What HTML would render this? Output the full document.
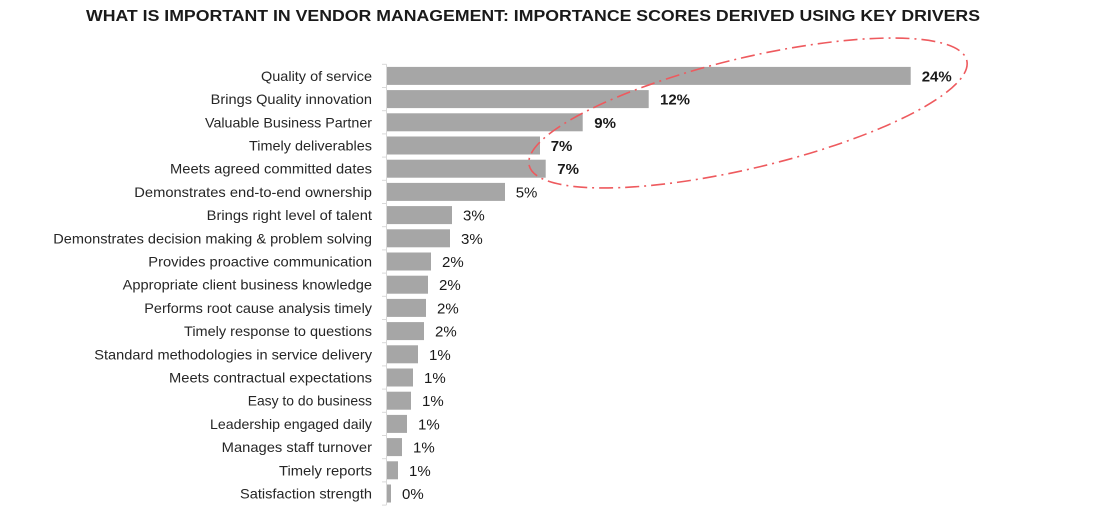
<!DOCTYPE html>
<html>
<head>
<meta charset="utf-8">
<style>
  html,body{margin:0;padding:0;background:#ffffff;}
  svg{display:block;}
  .cat{font-family:"Liberation Sans",Arial,sans-serif;font-size:14px;fill:#262626;}
  .val{font-family:"Liberation Sans",Arial,sans-serif;font-size:15px;fill:#1a1a1a;}
  .b{font-weight:bold;}
  .title{font-family:"Liberation Sans",Arial,sans-serif;font-size:16px;font-weight:bold;fill:#1a1a1a;}
</style>
</head>
<body>
<svg width="1108" height="511" viewBox="0 0 1108 511" xmlns="http://www.w3.org/2000/svg">
  <rect x="0" y="0" width="1108" height="511" fill="#ffffff"/>
  <text class="title" x="86" y="21" textLength="894" lengthAdjust="spacingAndGlyphs">WHAT IS IMPORTANT IN VENDOR MANAGEMENT: IMPORTANCE SCORES DERIVED USING KEY DRIVERS</text>

  <!-- axis -->
  <line x1="386.5" y1="64.3" x2="386.5" y2="505" stroke="#d9d9d9" stroke-width="1"/>
  <g stroke="#d9d9d9" stroke-width="1">
    <line x1="382" y1="64.3" x2="386.5" y2="64.3"/>
    <line x1="382" y1="87.5" x2="386.5" y2="87.5"/>
    <line x1="382" y1="110.7" x2="386.5" y2="110.7"/>
    <line x1="382" y1="133.9" x2="386.5" y2="133.9"/>
    <line x1="382" y1="157.1" x2="386.5" y2="157.1"/>
    <line x1="382" y1="180.3" x2="386.5" y2="180.3"/>
    <line x1="382" y1="203.5" x2="386.5" y2="203.5"/>
    <line x1="382" y1="226.7" x2="386.5" y2="226.7"/>
    <line x1="382" y1="249.9" x2="386.5" y2="249.9"/>
    <line x1="382" y1="273.1" x2="386.5" y2="273.1"/>
    <line x1="382" y1="296.3" x2="386.5" y2="296.3"/>
    <line x1="382" y1="319.5" x2="386.5" y2="319.5"/>
    <line x1="382" y1="342.7" x2="386.5" y2="342.7"/>
    <line x1="382" y1="365.9" x2="386.5" y2="365.9"/>
    <line x1="382" y1="389.1" x2="386.5" y2="389.1"/>
    <line x1="382" y1="412.3" x2="386.5" y2="412.3"/>
    <line x1="382" y1="435.5" x2="386.5" y2="435.5"/>
    <line x1="382" y1="458.7" x2="386.5" y2="458.7"/>
    <line x1="382" y1="481.9" x2="386.5" y2="481.9"/>
    <line x1="382" y1="505.1" x2="386.5" y2="505.1"/>
  </g>

  <!-- bars -->
  <g fill="#a6a6a6">
    <rect x="387" y="66.9" width="523.7" height="18"/>
    <rect x="387" y="90.1" width="261.7" height="18"/>
    <rect x="387" y="113.3" width="195.7" height="18"/>
    <rect x="387" y="136.5" width="153" height="18"/>
    <rect x="387" y="159.7" width="158.7" height="18"/>
    <rect x="387" y="182.9" width="118" height="18"/>
    <rect x="387" y="206.1" width="65" height="18"/>
    <rect x="387" y="229.3" width="63" height="18"/>
    <rect x="387" y="252.5" width="44" height="18"/>
    <rect x="387" y="275.7" width="41" height="18"/>
    <rect x="387" y="298.9" width="39" height="18"/>
    <rect x="387" y="322.1" width="37" height="18"/>
    <rect x="387" y="345.3" width="31" height="18"/>
    <rect x="387" y="368.5" width="26" height="18"/>
    <rect x="387" y="391.7" width="24" height="18"/>
    <rect x="387" y="414.9" width="20" height="18"/>
    <rect x="387" y="438.1" width="15" height="18"/>
    <rect x="387" y="461.3" width="11" height="18"/>
    <rect x="387" y="484.5" width="4" height="18"/>
  </g>

  <!-- category labels -->
  <text class="cat" x="261" y="80.9" textLength="111" lengthAdjust="spacingAndGlyphs">Quality of service</text>
  <text class="cat" x="210.7" y="104.1" textLength="161.3" lengthAdjust="spacingAndGlyphs">Brings Quality innovation</text>
  <text class="cat" x="205" y="127.3" textLength="167" lengthAdjust="spacingAndGlyphs">Valuable Business Partner</text>
  <text class="cat" x="249" y="150.5" textLength="123" lengthAdjust="spacingAndGlyphs">Timely deliverables</text>
  <text class="cat" x="170" y="173.7" textLength="202" lengthAdjust="spacingAndGlyphs">Meets agreed committed dates</text>
  <text class="cat" x="134.3" y="196.9" textLength="237.7" lengthAdjust="spacingAndGlyphs">Demonstrates end-to-end ownership</text>
  <text class="cat" x="206.7" y="220.1" textLength="165.3" lengthAdjust="spacingAndGlyphs">Brings right level of talent</text>
  <text class="cat" x="53.3" y="243.3" textLength="318.7" lengthAdjust="spacingAndGlyphs">Demonstrates decision making &amp; problem solving</text>
  <text class="cat" x="148.3" y="266.5" textLength="223.7" lengthAdjust="spacingAndGlyphs">Provides proactive communication</text>
  <text class="cat" x="122.7" y="289.7" textLength="249.3" lengthAdjust="spacingAndGlyphs">Appropriate client business knowledge</text>
  <text class="cat" x="144.3" y="312.9" textLength="227.7" lengthAdjust="spacingAndGlyphs">Performs root cause analysis timely</text>
  <text class="cat" x="184" y="336.1" textLength="188" lengthAdjust="spacingAndGlyphs">Timely response to questions</text>
  <text class="cat" x="94.3" y="359.3" textLength="277.7" lengthAdjust="spacingAndGlyphs">Standard methodologies in service delivery</text>
  <text class="cat" x="169" y="382.5" textLength="203" lengthAdjust="spacingAndGlyphs">Meets contractual expectations</text>
  <text class="cat" x="247.7" y="405.7" textLength="124.3" lengthAdjust="spacingAndGlyphs">Easy to do business</text>
  <text class="cat" x="210" y="428.9" textLength="162" lengthAdjust="spacingAndGlyphs">Leadership engaged daily</text>
  <text class="cat" x="221.7" y="452.1" textLength="150.3" lengthAdjust="spacingAndGlyphs">Manages staff turnover</text>
  <text class="cat" x="279" y="475.3" textLength="93" lengthAdjust="spacingAndGlyphs">Timely reports</text>
  <text class="cat" x="240" y="498.5" textLength="132" lengthAdjust="spacingAndGlyphs">Satisfaction strength</text>

  <!-- value labels -->
  <text class="val b" x="921.7" y="81.4">24%</text>
  <text class="val b" x="660" y="104.6">12%</text>
  <text class="val b" x="594.3" y="127.8">9%</text>
  <text class="val b" x="550.7" y="151">7%</text>
  <text class="val b" x="557.3" y="174.2">7%</text>
  <text class="val" x="515.7" y="197.4">5%</text>
  <text class="val" x="463" y="220.6">3%</text>
  <text class="val" x="461" y="243.8">3%</text>
  <text class="val" x="442" y="267">2%</text>
  <text class="val" x="439" y="290.2">2%</text>
  <text class="val" x="437" y="313.4">2%</text>
  <text class="val" x="435" y="336.6">2%</text>
  <text class="val" x="429" y="359.8">1%</text>
  <text class="val" x="424" y="383">1%</text>
  <text class="val" x="422" y="406.2">1%</text>
  <text class="val" x="418" y="429.4">1%</text>
  <text class="val" x="413" y="452.6">1%</text>
  <text class="val" x="409" y="475.8">1%</text>
  <text class="val" x="402" y="499">0%</text>

  <!-- highlight ellipse -->
  <ellipse cx="748" cy="113" rx="225" ry="55" transform="rotate(-13.5 748 113)" fill="none" stroke="#ee5a5e" stroke-width="1.6" stroke-dasharray="14 5 2 5"/>
</svg>
</body>
</html>
